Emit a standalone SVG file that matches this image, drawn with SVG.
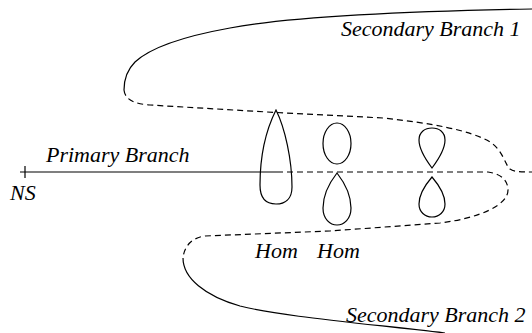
<svg xmlns="http://www.w3.org/2000/svg" width="532" height="333" viewBox="0 0 532 333">
<style>
.s{fill:none;stroke:#000;stroke-width:1.2}
.d{fill:none;stroke:#000;stroke-width:1.2;stroke-dasharray:6 4}
.t{font-family:"Liberation Serif","Times New Roman",serif;font-style:italic;font-size:22px;fill:#000}
</style>
<rect width="532" height="333" fill="#fff"/>
<g id="connectors">
<path class="s" d="M20,172 L277,172"/>
<path class="s" d="M25,166 L25,178"/>
<path class="d" d="M277,172 L488,172 C503,174 508,182 508,190 C508,205 480,218 440,223 L330,231 L205,236 C190,238 184,248 183,258"/>
<path class="s" d="M183,258 C183,278 205,296 240,306 C280,316 350,322 445,333"/>
<path class="s" d="M532,9 C420,11 300,15 230,28 C180,37 150,48 135,62 C126,71 124,80 124,90"/>
<path class="d" d="M124,90 C125,100 135,104 150,105 L267,112 L383,118 C430,123 470,130 490,142 C503,150 505,165 510,169 C514,172 520,172 532,172"/>
</g>
<g id="lobe-big"><path class="s" d="M276,110 C267,128 260,155 260,185 C260,199 267,204 276,204 C285,204 292,199 292,187 C292,160 285,128 276,110 Z"/></g>
<g id="lobe-2-up"><ellipse class="s" cx="337" cy="143.5" rx="14" ry="20.5"/></g>
<g id="lobe-2-down"><path class="s" d="M337,173 C330,182 323,195 323,208 C323,219 330,225 337,225 C344,225 351,219 351,208 C351,195 344,182 337,173 Z"/></g>
<g id="lobe-3-up"><path class="s" d="M432,168 C426,160 419,150 419,140 C419,132 425,128 432,128 C439,128 445,132 445,140 C445,150 438,160 432,168 Z"/></g>
<g id="lobe-3-down"><path class="s" d="M432,177 C426,184 419,194 419,204 C419,212 425,217 432,217 C439,217 445,212 445,204 C445,194 438,184 432,177 Z"/></g>
<g id="labels">
<text class="t" x="341" y="36">Secondary Branch 1</text>
<text class="t" x="46" y="162">Primary Branch</text>
<text class="t" x="10" y="200">NS</text>
<text class="t" x="255" y="258">Hom</text>
<text class="t" x="317" y="258">Hom</text>
<text class="t" x="346" y="322">Secondary Branch 2</text>
</g>
</svg>
